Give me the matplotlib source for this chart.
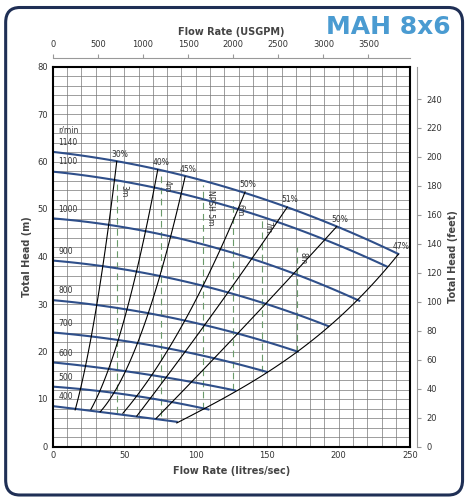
import matplotlib
matplotlib.use("Agg")
import matplotlib.pyplot as plt
from matplotlib.patches import FancyBboxPatch
import numpy as np

# speed curves (L/s, m)
speeds = ["1140", "1100", "1000", "900", "800", "700", "600", "500", "400"]
speed_q = [
    [0, 45, 73, 92.5, 134.5, 164, 198.6, 241.7],
    [0, 45, 90, 145, 191.6, 233.5],
    [0, 61, 145, 214.4],
    [0, 61, 145, 192.7],
    [0, 61, 145, 171.3],
    [0, 61, 149.7],
    [0, 61, 127.5],
    [0, 61, 108.8],
    [0, 40.3, 86.7],
]
speed_h = [
    [62.1, 60.0, 58.3, 56.8, 53.6, 50.4, 46.3, 40.5],
    [58.1, 55.7, 53.0, 48.8, 43.6, 37.7],
    [48.0, 45.6, 38.9, 30.7],
    [39.1, 36.8, 30.3, 25.4],
    [30.8, 28.4, 22.4, 20.0],
    [24.0, 21.7, 15.7],
    [17.7, 15.4, 11.8],
    [12.6, 10.5, 7.8],
    [8.5, 7.0, 5.2],
]

# efficiency curves
eff_labels = ["30%", "40%", "45%", "50%", "51%", "50%", "47%"]
eff_q = [
    [15.6, 30.7, 44.7],
    [26.6, 51.7, 73.4],
    [33.1, 66.9, 92.5],
    [49.0, 92.5, 134.5],
    [58.7, 106.5, 164.0],
    [72.2, 130.0, 198.6],
    [86.7, 108.8, 127.5, 149.7, 171.3, 192.7, 214.4, 233.5, 241.7],
]
eff_h = [
    [7.7, 29.8, 60.0],
    [7.8, 28.7, 58.3],
    [7.3, 28.2, 56.8],
    [7.0, 26.6, 53.6],
    [6.4, 25.7, 50.4],
    [5.9, 24.0, 46.3],
    [5.2, 7.8, 11.8, 15.7, 20.0, 25.4, 30.7, 37.7, 40.5],
]

# NPSH lines
npsh_labels = ["3m", "4m", "NPSH 5m", "6m", "7m", "8m"]
npsh_q = [45.2, 75.5, 105.3, 126.3, 146.0, 170.6]
npsh_top = [56.0, 57.0, 55.0, 52.0, 48.5, 42.0]
npsh_bot = [7.0, 6.5, 8.0, 11.8, 15.7, 20.0]

navy = "#2f4f8a"


def smooth(q, h, deg):
    # smooth line through read points for drawing
    deg = min(deg, len(q) - 1)
    c = np.polyfit(q, h, deg)
    qq = np.linspace(q[0], q[-1], 80)
    return qq, np.polyval(c, qq)


fig = plt.figure(figsize=(4.72, 5.0), dpi=100)
fig.patches.append(FancyBboxPatch((0.012, 0.01), 0.968, 0.975, boxstyle="round,pad=0,rounding_size=0.03",
                                  transform=fig.transFigure, fill=False, ec="#1f2f55", lw=2.2))
ax = fig.add_axes([0.112, 0.107, 0.757, 0.76])
ax.set_xlim(0, 250)
ax.set_ylim(0, 80)
ax.set_xticks(np.arange(0, 251, 50))
ax.set_yticks(np.arange(0, 81, 10))
ax.set_xticks(np.arange(0, 251, 10), minor=True)
ax.set_yticks(np.arange(0, 81, 2), minor=True)
ax.grid(which="both", color="#777777", lw=0.5)
ax.tick_params(which="both", length=0, labelsize=6, colors="#333333")
for s in ax.spines.values():
    s.set_linewidth(1.5)
ax.set_xlabel("Flow Rate (litres/sec)", fontsize=7, fontweight="bold", color="#444444")
ax.set_ylabel("Total Head (m)", fontsize=7, fontweight="bold", color="#444444")

for i in range(len(npsh_q)):
    ax.plot([npsh_q[i], npsh_q[i]], [npsh_bot[i], npsh_top[i]], color="#6a9a6a", lw=0.8, ls=(0, (6, 4)))
    ax.text(npsh_q[i] + 1.5, npsh_top[i] - 1, npsh_labels[i], rotation=-90, fontsize=5.5,
            va="top", ha="left", color="#333333")

for i in range(len(speeds)):
    qq, hh = smooth(speed_q[i], speed_h[i], 2)
    ax.plot(qq, hh, color=navy, lw=1.5)
    ax.text(4, speed_h[i][0] + 1, speeds[i], fontsize=5.5, color="#333333", va="bottom")
ax.text(4, speed_h[0][0] + 3.5, "r/min", fontsize=5.5, color="#333333", va="bottom")

for i in range(len(eff_labels)):
    qq, hh = smooth(eff_q[i], eff_h[i], 3 if len(eff_q[i]) > 4 else 2)
    ax.plot(qq, hh, color="black", lw=0.8)
    ax.text(eff_q[i][-1] + 2, eff_h[i][-1] + 0.6, eff_labels[i], fontsize=5.5, color="#333333", ha="center", va="bottom")

# right axis, feet
axr = ax.twinx()
axr.set_ylim(0, 80 * 3.2808)
axr.set_yticks(np.arange(0, 241, 20))
axr.spines["right"].set_position(("outward", 5))
axr.spines["right"].set_color("#999999")
for s in ["top", "left", "bottom"]:
    axr.spines[s].set_visible(False)
axr.tick_params(labelsize=6, colors="#333333", length=3, color="#999999")
axr.set_ylabel("Total Head (feet)", fontsize=7, fontweight="bold", color="#444444")

# top axis, USGPM
axt = ax.twiny()
axt.set_xlim(0, 250 * 15.85)
axt.set_xticks(np.arange(0, 3501, 500))
axt.spines["top"].set_position(("outward", 6))
axt.spines["top"].set_color("#999999")
for s in ["right", "left", "bottom"]:
    axt.spines[s].set_visible(False)
axt.tick_params(labelsize=6, colors="#333333", length=3, color="#999999")
axt.set_xlabel("Flow Rate (USGPM)", fontsize=7, fontweight="bold", color="#444444")

fig.text(0.955, 0.945, "MAH 8x6", fontsize=18, fontweight="bold", color="#4a9bd1", ha="right", va="center")

fig.savefig("out.png", dpi=100)
